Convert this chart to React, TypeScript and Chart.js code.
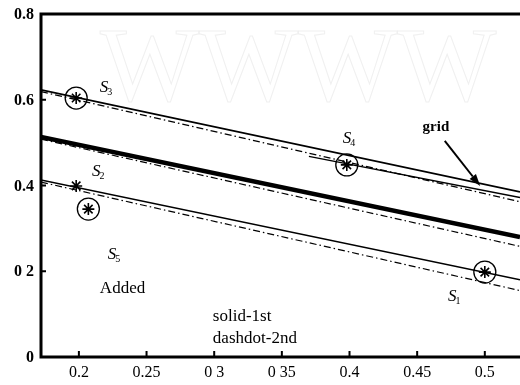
import React, { useEffect, useRef } from "react";
import { Chart, registerables } from "chart.js";

Chart.register(...registerables);

// ---- data ----
const lineX = [0.172, 0.526];
const upperSolidY = [0.623, 0.385];
const upperDashdotY = [0.619, 0.362];
const gridLineX = [0.37, 0.526];
const gridLineY = [0.468, 0.372];
const thickSolidY = [0.513, 0.28];
const thickDashdotY = [0.508, 0.258];
const lowerSolidY = [0.413, 0.18];
const lowerDashdotY = [0.408, 0.155];

const circledX = [0.198, 0.207, 0.398, 0.5];
const circledY = [0.604, 0.345, 0.448, 0.198];
const starX = [0.198, 0.207, 0.398, 0.5, 0.198];
const starY = [0.604, 0.345, 0.448, 0.198, 0.399];

const xTickValues = [0.2, 0.25, 0.3, 0.35, 0.4, 0.45, 0.5];
const xTickLabels = ["0.2", "0.25", "0 3", "0 35", "0.4", "0.45", "0.5"];
const yTickValues = [0, 0.2, 0.4, 0.6, 0.8];
const yTickLabels = ["0", "0 2", "0.4", "0.6", "0.8"];

// annotation labels: [main, subscript, x, y]
const sLabels: [string, string, number, number][] = [
  ["S", "3", 0.2155, 0.611],
  ["S", "4", 0.395, 0.492],
  ["S", "2", 0.2096, 0.415],
  ["S", "5", 0.2214, 0.2216],
  ["S", "1", 0.4727, 0.1236],
];
const textLabels: [string, number, number][] = [
  ["Added", 0.2155, 0.149],
  ["solid-1st", 0.299, 0.084],
  ["dashdot-2nd", 0.299, 0.0327],
];
const gridText: [string, number, number] = ["grid", 0.454, 0.527];
const arrowFrom = [0.4704, 0.504];
const arrowTo = [0.4966, 0.399];

const FONT = "'Liberation Serif', 'DejaVu Serif', serif";

const pts = (xs: number[], ys: number[]) => xs.map((x, i) => ({ x, y: ys[i] }));

const framePlugin = {
  id: "frame",
  beforeDatasetsDraw(chart: any) {
    const { ctx, chartArea: a } = chart;
    ctx.save();
    ctx.beginPath();
    ctx.rect(a.left, a.top, a.right - a.left, a.bottom - a.top);
    ctx.clip();
    ctx.strokeStyle = "#f0f0f0";
    ctx.lineWidth = 1;
    ctx.font = `105px ${FONT}`;
    ctx.textBaseline = "alphabetic";
    ctx.strokeText("WWWW", 100, 100);
    ctx.restore();
  },
  afterDatasetsDraw(chart: any) {
    const { ctx, chartArea: a, scales } = chart;
    const xs = scales.x;
    const ys = scales.y;
    ctx.save();
    ctx.strokeStyle = "#000";
    ctx.lineWidth = 3;
    ctx.beginPath();
    ctx.moveTo(a.left, a.top);
    ctx.lineTo(a.right, a.top);
    ctx.moveTo(a.left, a.top - 1.5);
    ctx.lineTo(a.left, a.bottom);
    ctx.lineTo(a.right, a.bottom);
    ctx.stroke();
    ctx.lineWidth = 2;
    ctx.beginPath();
    xTickValues.forEach((v) => {
      const px = xs.getPixelForValue(v);
      ctx.moveTo(px, a.bottom);
      ctx.lineTo(px, a.bottom - 6);
    });
    yTickValues.forEach((v) => {
      const py = ys.getPixelForValue(v);
      ctx.moveTo(a.left, py);
      ctx.lineTo(a.left + 5, py);
    });
    ctx.stroke();

    // tick labels
    ctx.fillStyle = "#000";
    ctx.textBaseline = "middle";
    ctx.textAlign = "center";
    ctx.font = `16px ${FONT}`;
    xTickValues.forEach((v, i) => {
      ctx.fillText(xTickLabels[i], xs.getPixelForValue(v), a.bottom + 16);
    });
    ctx.textAlign = "right";
    ctx.font = `bold 16px ${FONT}`;
    yTickValues.forEach((v, i) => {
      ctx.fillText(yTickLabels[i], a.left - 7, ys.getPixelForValue(v) + 1);
    });

    // S labels
    ctx.textBaseline = "alphabetic";
    ctx.textAlign = "left";
    sLabels.forEach(([m, s, x, y]) => {
      const px = xs.getPixelForValue(x);
      const py = ys.getPixelForValue(y);
      ctx.font = `italic 17px ${FONT}`;
      ctx.fillText(m, px, py - 3);
      const w = ctx.measureText(m).width;
      ctx.font = `10px ${FONT}`;
      ctx.fillText(s, px + w - 1, py);
    });
    ctx.font = `17px ${FONT}`;
    textLabels.forEach(([t, x, y]) => {
      ctx.fillText(t, xs.getPixelForValue(x), ys.getPixelForValue(y));
    });
    ctx.font = `bold 15px ${FONT}`;
    ctx.fillText(gridText[0], xs.getPixelForValue(gridText[1]), ys.getPixelForValue(gridText[2]));

    // arrow
    const x1 = xs.getPixelForValue(arrowFrom[0]);
    const y1 = ys.getPixelForValue(arrowFrom[1]);
    const x2 = xs.getPixelForValue(arrowTo[0]);
    const y2 = ys.getPixelForValue(arrowTo[1]);
    const ang = Math.atan2(y2 - y1, x2 - x1);
    const hl = 12;
    const hw = 4;
    const bx = x2 - hl * Math.cos(ang);
    const by = y2 - hl * Math.sin(ang);
    ctx.lineWidth = 2;
    ctx.beginPath();
    ctx.moveTo(x1, y1);
    ctx.lineTo(bx, by);
    ctx.stroke();
    ctx.beginPath();
    ctx.moveTo(x2, y2);
    ctx.lineTo(bx + hw * Math.sin(ang), by - hw * Math.cos(ang));
    ctx.lineTo(bx - hw * Math.sin(ang), by + hw * Math.cos(ang));
    ctx.closePath();
    ctx.fill();
    ctx.restore();
  },
};

export default function App() {
  const ref = useRef<HTMLCanvasElement>(null);
  useEffect(() => {
    if (!ref.current) return;
    const dash = [7, 3, 1.5, 3];
    const lineDs = (data: any, width: number, borderDash: number[] = []) => ({
      data,
      showLine: true,
      borderColor: "#000",
      borderWidth: width,
      borderDash,
      pointRadius: 0,
      pointHoverRadius: 0,
      fill: false,
    });
    const chart = new Chart(ref.current, {
      type: "scatter",
      data: {
        datasets: [
          lineDs(pts(lineX, upperDashdotY), 1.2, dash),
          lineDs(pts(lineX, upperSolidY), 1.6),
          lineDs(pts(gridLineX, gridLineY), 1.4),
          lineDs(pts(lineX, thickDashdotY), 1.2, dash),
          lineDs(pts(lineX, thickSolidY), 4.5),
          lineDs(pts(lineX, lowerDashdotY), 1.2, dash),
          lineDs(pts(lineX, lowerSolidY), 1.4),
          {
            data: pts(circledX, circledY),
            showLine: false,
            pointStyle: "circle",
            pointRadius: 11,
            pointBorderColor: "#000",
            pointBackgroundColor: "rgba(0,0,0,0)",
            pointBorderWidth: 1.3,
          },
          {
            data: pts(starX, starY),
            showLine: false,
            pointStyle: "star",
            pointRadius: 6,
            pointBorderColor: "#000",
            pointBackgroundColor: "#000",
            pointBorderWidth: 1.6,
          },
        ] as any,
      },
      options: {
        animation: false,
        responsive: false,
        maintainAspectRatio: false,
        events: [],
        layout: { autoPadding: false, padding: { top: 14, left: 0, right: 0, bottom: 0 } },
        plugins: { legend: { display: false }, tooltip: { enabled: false } },
        scales: {
          x: {
            type: "linear",
            min: 0.172,
            max: 0.526,
            grid: { display: false, drawTicks: false },
            border: { display: false },
            ticks: { display: false },
            afterFit: (s: any) => {
              s.height = 28;
              s.paddingLeft = 0;
              s.paddingRight = 0;
            },
          },
          y: {
            type: "linear",
            min: 0,
            max: 0.8,
            grid: { display: false, drawTicks: false },
            border: { display: false },
            ticks: { display: false },
            afterFit: (s: any) => {
              s.width = 41;
              s.paddingTop = 0;
              s.paddingBottom = 0;
            },
          },
        },
      },
      plugins: [framePlugin],
    });
    return () => chart.destroy();
  }, []);
  return (
    <div style={{ position: "fixed", left: 0, top: 0, width: 520, height: 385, background: "#fff" }}>
      <canvas ref={ref} width={520} height={385} style={{ width: 520, height: 385, display: "block" }} />
    </div>
  );
}
